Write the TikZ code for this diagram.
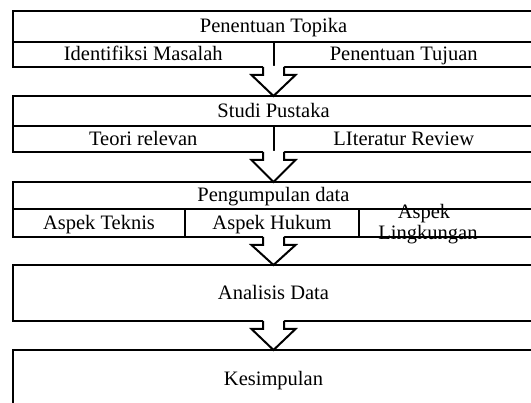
\documentclass[tikz,border=0pt]{standalone}
\usepackage{fontspec}
\setmainfont{Liberation Serif}
\usetikzlibrary{calc}

\tikzset{
  cell/.style={draw, line width=2pt, inner sep=0pt, outer sep=0pt,
    anchor=north west, text height=13.5pt, text depth=0.5pt,
    font=\fontsize{20.5}{22}\selectfont},
  label/.style={inner sep=0pt, anchor=base, font=\fontsize{20.5}{22}\selectfont},
  arrowline/.style={line width=2pt, line join=miter},
}

% block arrow from the bottom edge point #1 down to the top edge point #2
\newcommand\flowarrow[2]{%
  \fill[white] ($(#1)+(-10.5,-1.1)$) -- ($(#1)+(-10.5,8)$) -- ($(#1)+(-22,8)$)
    -- (#2) -- ($(#1)+(22,8)$) -- ($(#1)+(10.5,8)$) -- ($(#1)+(10.5,-1.1)$) -- cycle;
  \draw[arrowline] ($(#1)+(-10.5,0)$) -- ($(#1)+(-10.5,8)$) -- ($(#1)+(-22,8)$)
    -- (#2) -- ($(#1)+(22,8)$) -- ($(#1)+(10.5,8)$) -- ($(#1)+(10.5,0)$);
}

\begin{document}
\begin{tikzpicture}[x=1pt,y=-1pt]
\useasboundingbox (0,0) rectangle (531,403);
\clip (0,0) rectangle (531,403);

% stage 1
\node[cell, minimum width=521pt, minimum height=31pt] (topika) at (13,11) {Penentuan Topika};
\node[cell, minimum width=260.5pt, minimum height=25pt] (masalah) at (13,42) {Identifiksi Masalah};
\node[cell, minimum width=260.5pt, minimum height=25pt] (tujuan) at (273.5,42) {Penentuan Tujuan};

% stage 2
\node[cell, minimum width=521pt, minimum height=30pt] (pustaka) at (13,96) {Studi Pustaka};
\node[cell, minimum width=260.5pt, minimum height=26pt] (teori) at (13,126) {Teori relevan};
\node[cell, minimum width=260.5pt, minimum height=26pt] (review) at (273.5,126) {LIteratur Review};

% stage 3
\node[cell, minimum width=521pt, minimum height=27pt] (kumpul) at (13,182) {Pengumpulan data};
\node[cell, minimum width=172pt, minimum height=28pt] (teknis) at (13,209) {Aspek Teknis};
\node[cell, minimum width=174pt, minimum height=28pt] (hukum) at (185,209) {Aspek Hukum};
\node[cell, minimum width=175pt, minimum height=28pt] (lingk) at (359,209) {};
\node[label] (lingkA) at (424,218.5) {Aspek};
\node[label] (lingkB) at (428,240) {Lingkungan};

% stage 4
\node[cell, minimum width=521pt, minimum height=56pt] (analisis) at (13,265) {Analisis Data};

% stage 5
\node[cell, minimum width=521pt, minimum height=58pt] (simpul) at (13,350) {Kesimpulan};

% arrows between stages
\flowarrow{topika.south |- masalah.south}{pustaka.north}
\flowarrow{pustaka.south |- teori.south}{kumpul.north}
\flowarrow{kumpul.south |- teknis.south}{analisis.north}
\flowarrow{analisis.south}{simpul.north}
\end{tikzpicture}
\end{document}
